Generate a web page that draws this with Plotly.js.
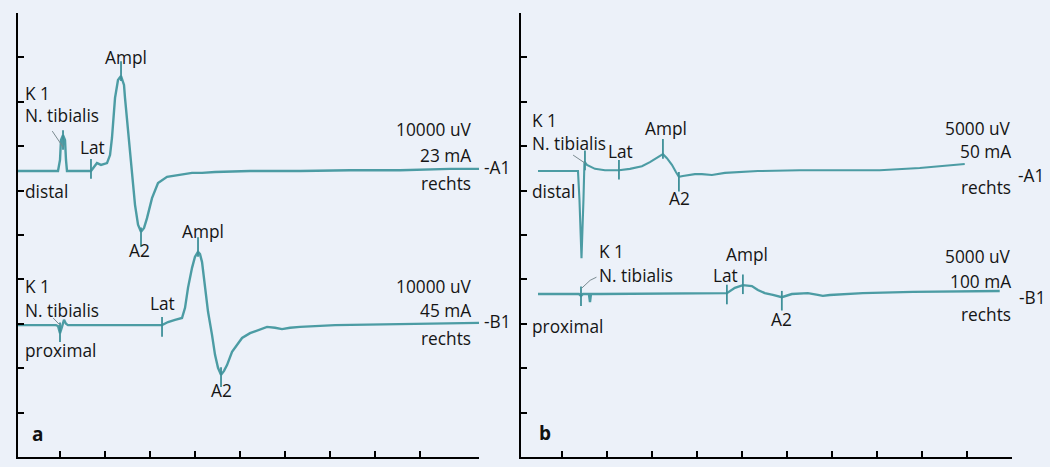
<!DOCTYPE html>
<html>
<head>
<meta charset="utf-8">
<script src="https://cdn.plot.ly/plotly-3.0.1.min.js"></script>
<style>
html,body{margin:0;padding:0;background:#ecf1f9;}
#chart{width:1050px;height:467px;}
</style>
</head>
<body>
<div id="chart"></div>
<script>
// ---------- Panel a (x: divisions, y: divisions) ----------
const aA1x = [0.08,0.967,1.011,1.033,1.078,1.122,1.144,1.166,1.698,1.831,1.920,2.053,2.120,2.164,2.231,2.297,2.364,2.430,2.452,2.519,2.608,2.674,2.741,2.807,2.874,2.940,3.051,3.184,3.384,3.627,3.938,4.160,4.448,5.224,6.333,7.441,8.550,9.659,10.30];
const aA1y = [6.44,6.44,6.69,7.14,7.25,7.14,6.69,6.44,6.44,6.62,6.58,6.62,6.80,7.19,8.09,8.49,8.58,8.38,8.09,7.32,6.42,5.68,5.23,5.07,5.16,5.38,5.83,6.17,6.31,6.35,6.40,6.40,6.42,6.44,6.44,6.46,6.46,6.49,6.49];
const aB1x = [0.08,0.922,0.967,1.011,1.055,1.100,1.144,1.188,3.273,3.406,3.561,3.716,3.783,3.849,3.938,4.004,4.071,4.115,4.160,4.226,4.293,4.381,4.448,4.514,4.581,4.647,4.714,4.825,5.047,5.224,5.402,5.601,5.778,5.933,6.111,6.333,7.109,8.550,10.30];
const aB1y = [2.97,2.97,2.95,2.79,2.93,3.09,3.00,2.97,2.97,3.04,3.09,3.13,3.36,3.81,4.26,4.51,4.62,4.57,4.39,3.87,3.27,2.75,2.30,2.01,1.85,1.94,2.07,2.37,2.68,2.79,2.86,2.93,2.91,2.88,2.91,2.93,2.97,3.00,3.02];
// marker ticks (K1, Lat, Ampl, A2)
const aMarkX = [1.078,1.698,2.364,2.807, 1.011,3.273,4.071,4.581];
const aMarkY = [7.14,6.49,8.69,4.95, 2.81,2.93,4.73,1.80];

// ---------- Panel b ----------
const bA1x = [0.46,1.349,1.382,1.427,1.471,1.493,1.549,1.727,1.949,2.260,2.504,2.771,2.949,3.060,3.238,3.327,3.438,3.527,3.593,3.682,3.793,3.949,4.104,4.238,4.327,4.616,4.949,5.349,6.282,8.060,8.949,9.949];
const bA1y = [6.44,6.44,5.80,4.48,5.80,6.65,6.58,6.49,6.46,6.46,6.49,6.55,6.64,6.71,6.82,6.73,6.58,6.42,6.31,6.33,6.35,6.37,6.37,6.35,6.35,6.40,6.42,6.44,6.46,6.46,6.51,6.60];
const bB1x = [0.46,1.371,1.416,1.460,1.593,1.616,1.638,1.660,1.838,4.660,4.838,5.016,5.216,5.349,5.504,5.682,5.882,6.104,6.460,6.682,6.793,6.949,7.282,7.682,8.793,10.727];
const bB1y = [3.67,3.67,3.63,3.67,3.67,3.49,3.67,3.67,3.67,3.69,3.81,3.87,3.85,3.76,3.69,3.65,3.60,3.67,3.69,3.65,3.63,3.65,3.67,3.69,3.72,3.74];
const bMarkX = [1.504,2.260,3.238,3.593, 1.416,4.660,5.016,5.882];
const bMarkY = [6.68,6.47,6.94,6.20, 3.62,3.66,3.89,3.52];

// leader lines (label -> stimulus artefact)
const aLeadX = [[0.84,1.078],[0.86,1.011]];
const aLeadY = [[7.34,6.98],[3.13,2.97]];
const bLeadX = [[1.24,1.504],[1.76,1.62,1.43]];
const bLeadY = [[6.80,6.62],[4.05,3.98,3.80]];

// ---------- text in the plot area (data x) ----------
const labelsA = [
  ['Ampl',2.474,8.99,'center'],['K 1',0.20,8.18,'left'],['N. tibialis',0.20,7.70,'left'],
  ['Lat',1.721,6.98,'center'],['distal',0.20,5.99,'left'],['A2',2.784,4.64,'center'],
  ['Ampl',4.182,5.07,'center'],['K 1',0.20,3.85,'left'],['N. tibialis',0.20,3.31,'left'],
  ['Lat',3.293,3.45,'center'],['proximal',0.20,2.41,'left'],['A2',4.581,1.49,'center']
];
const labelsB = [
  ['K 1',0.29,7.59,'left'],['N. tibialis',0.29,7.05,'left'],['Lat',2.304,6.89,'center'],
  ['Ampl',3.304,7.39,'center'],['distal',0.29,5.97,'left'],['A2',3.616,5.83,'center'],
  ['K 1',1.78,4.62,'left'],['N. tibialis',1.78,4.08,'left'],['Lat',4.638,4.08,'center'],
  ['Ampl',5.104,4.57,'center'],['proximal',0.29,2.95,'left'],['A2',5.882,3.09,'center']
];
// ---------- settings text at the right end of each trace (paper x) ----------
const sideA = [
  ['10000 uV',0.4505,7.37,'right'],['23 mA',0.4505,6.80,'right'],['rechts',0.4505,6.17,'right'],['-A1',0.4595,6.53,'left'],
  ['10000 uV',0.4505,3.83,'right'],['45 mA',0.4505,3.29,'right'],['rechts',0.4505,2.66,'right'],['-B1',0.4595,3.06,'left']
];
const sideB = [
  ['5000 uV',0.9648,7.41,'right'],['50 mA',0.9648,6.87,'right'],['rechts',0.9648,6.06,'right'],['-A1',0.9675,6.35,'left'],
  ['5000 uV',0.9648,4.51,'right'],['100 mA',0.9648,3.96,'right'],['rechts',0.9648,3.20,'right'],['-B1',0.9685,3.60,'left']
];

const traceColor = '#4c9ca4';
const tickColor = '#3f9099';
const FONT = '"Open Sans", "Noto Sans", sans-serif';
const FS = 17.3;

function line(x, y, xa, ya, w, c){
  return {x:x, y:y, xaxis:xa, yaxis:ya, type:'scatter', mode:'lines',
          line:{color:c||traceColor, width:w||2.4, shape:'linear'}, hoverinfo:'skip', cliponaxis:false};
}
function ticks(x, y, xa, ya){
  return {x:x, y:y, xaxis:xa, yaxis:ya, type:'scatter', mode:'markers',
          marker:{symbol:'line-ns-open', size:14, color:tickColor, line:{color:tickColor, width:1.8}}, hoverinfo:'skip', cliponaxis:false};
}

const data = [
  line(aA1x, aA1y, 'x', 'y'), line(aB1x, aB1y, 'x', 'y'),
  ticks(aMarkX, aMarkY, 'x', 'y'),
  line(bA1x, bA1y, 'x2', 'y2', 2.1), line(bB1x, bB1y, 'x2', 'y2'),
  ticks(bMarkX, bMarkY, 'x2', 'y2')
];
aLeadX.forEach((lx,i)=>data.push(line(lx, aLeadY[i], 'x', 'y', 1, '#7a8a90')));
bLeadX.forEach((lx,i)=>data.push(line(lx, bLeadY[i], 'x2', 'y2', 1, '#7a8a90')));

const annotations = [];
function addLabels(list, xr, yr){
  list.forEach(l=>annotations.push({text:l[0], x:l[1], y:l[2], xref:xr, yref:yr,
    xanchor:l[3], yanchor:'middle', showarrow:false, font:{family:FONT, size:FS, color:'#151515'}}));
}
addLabels(labelsA, 'x', 'y');
addLabels(labelsB, 'x2', 'y2');
addLabels(sideA, 'paper', 'y');
addLabels(sideB, 'paper', 'y2');
annotations.push({text:'<b>a</b>', x:0.52, y:0.52, xref:'x', yref:'y', showarrow:false, font:{family:FONT, size:19, color:'#111'}});
annotations.push({text:'<b>b</b>', x:0.61, y:0.54, xref:'x2', yref:'y2', showarrow:false, font:{family:FONT, size:19, color:'#111'}});

const axisCommon = {showline:true, linewidth:2, linecolor:'#000', ticks:'inside', ticklen:6, tickwidth:2,
  tickcolor:'#000', showgrid:false, zeroline:false, showticklabels:false, fixedrange:true};
const yDom = [10/467, 454/467];

const layout = {
  width:1050, height:467,
  margin:{l:0, r:0, t:0, b:0},
  paper_bgcolor:'#ecf1f9', plot_bgcolor:'#ecf1f9',
  showlegend:false, hovermode:false,
  xaxis:Object.assign({}, axisCommon, {domain:[18/1050, 479/1050], range:[0.08, 10.30],
        tickmode:'array', tickvals:[1,2,3,4,5,6,7,8,9,10.295], anchor:'y'}),
  yaxis:Object.assign({}, axisCommon, {domain:yDom, range:[0,10], tickmode:'linear', tick0:0, dtick:1, anchor:'x'}),
  xaxis2:Object.assign({}, axisCommon, {domain:[521/1050, 1012/1050], range:[0.082, 11.0],
        tickmode:'array', tickvals:[1,2,3,4,5,6,7,8,9,10,10.995], anchor:'y2'}),
  yaxis2:Object.assign({}, axisCommon, {domain:yDom, range:[0,10], tickmode:'linear', tick0:0, dtick:1, anchor:'x2'}),
  annotations:annotations
};

Plotly.newPlot('chart', data, layout, {staticPlot:true, displayModeBar:false});
</script>
</body>
</html>
